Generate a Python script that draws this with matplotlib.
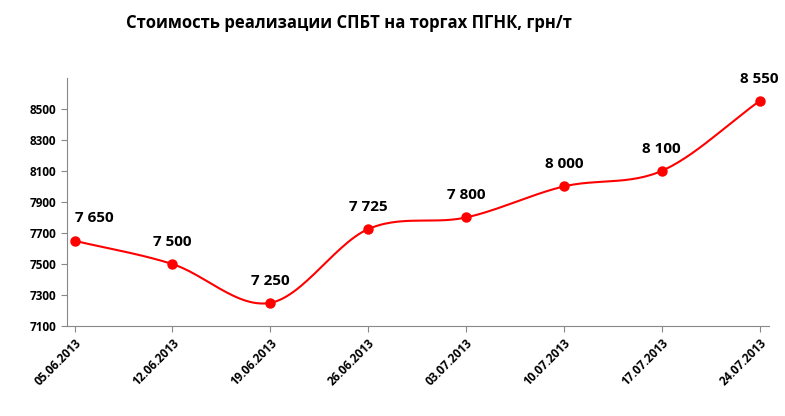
import matplotlib
matplotlib.use("Agg")
import matplotlib.pyplot as plt
import numpy as np

dates = ['05.06.2013', '12.06.2013', '19.06.2013', '26.06.2013',
         '03.07.2013', '10.07.2013', '17.07.2013', '24.07.2013']
prices = [7650, 7500, 7250, 7725, 7800, 8000, 8100, 8550]
labels = ['7 650', '7 500', '7 250', '7 725', '7 800', '8 000', '8 100', '8 550']
yticks = [7100, 7300, 7500, 7700, 7900, 8100, 8300, 8500]

plt.rcParams['font.family'] = ['Open Sans', 'DejaVu Sans']


def smooth(x, y, n=30):
    # Catmull-Rom style curve through the points, like Excel's smoothed line
    x = np.asarray(x, float)
    y = np.asarray(y, float)
    px = np.concatenate([[2 * x[0] - x[1]], x, [2 * x[-1] - x[-2]]])
    py = np.concatenate([[2 * y[0] - y[1]], y, [2 * y[-1] - y[-2]]])
    xs, ys = [], []
    for i in range(1, len(px) - 2):
        t = np.linspace(0, 1, n)
        for p, out in ((px, xs), (py, ys)):
            p0, p1, p2, p3 = p[i - 1], p[i], p[i + 1], p[i + 2]
            out.extend(0.5 * ((2 * p1) + (-p0 + p2) * t
                              + (2 * p0 - 5 * p1 + 4 * p2 - p3) * t ** 2
                              + (-p0 + 3 * p1 - 3 * p2 + p3) * t ** 3))
    return np.array(xs), np.array(ys)


fig = plt.figure(figsize=(7.85, 4.16), dpi=100)
ax = fig.add_axes([0.085, 0.216, 0.895, 0.597])

x = np.arange(len(prices))
sx, sy = smooth(x, prices)
ax.plot(sx, sy, color='#ff0000', lw=1.5)
ax.plot(x, prices, 'o', color='#ff0000', ms=6.5)

for xi, yi, lab in zip(x, prices, labels):
    dx = 14 if xi == 0 else 0
    ax.annotate(lab, (xi, yi), xytext=(dx, 11), textcoords='offset points',
                ha='center', va='bottom', fontsize=11, fontweight='bold')

ax.set_xlim(-0.08, 7.1)
ax.set_ylim(7100, 8700)
ax.set_yticks(yticks)
ax.set_xticks(x)
ax.set_xticklabels(dates, rotation=45, ha='right', rotation_mode='anchor',
                   fontsize=8.5, fontweight='bold')
for t in ax.get_yticklabels():
    t.set_fontsize(8.5)
    t.set_fontweight('bold')
ax.tick_params(axis='x', length=4, color='#888888')
ax.tick_params(axis='y', length=4, color='#888888')
ax.spines['top'].set_visible(False)
ax.spines['right'].set_visible(False)
ax.spines['left'].set_color('#888888')
ax.spines['bottom'].set_color('#888888')

fig.text(0.445, 0.945, 'Стоимость реализации СПБТ на торгах ПГНК, грн/т',
         ha='center', va='center', fontsize=12, fontweight='bold')

fig.savefig('out.png', dpi=100)
